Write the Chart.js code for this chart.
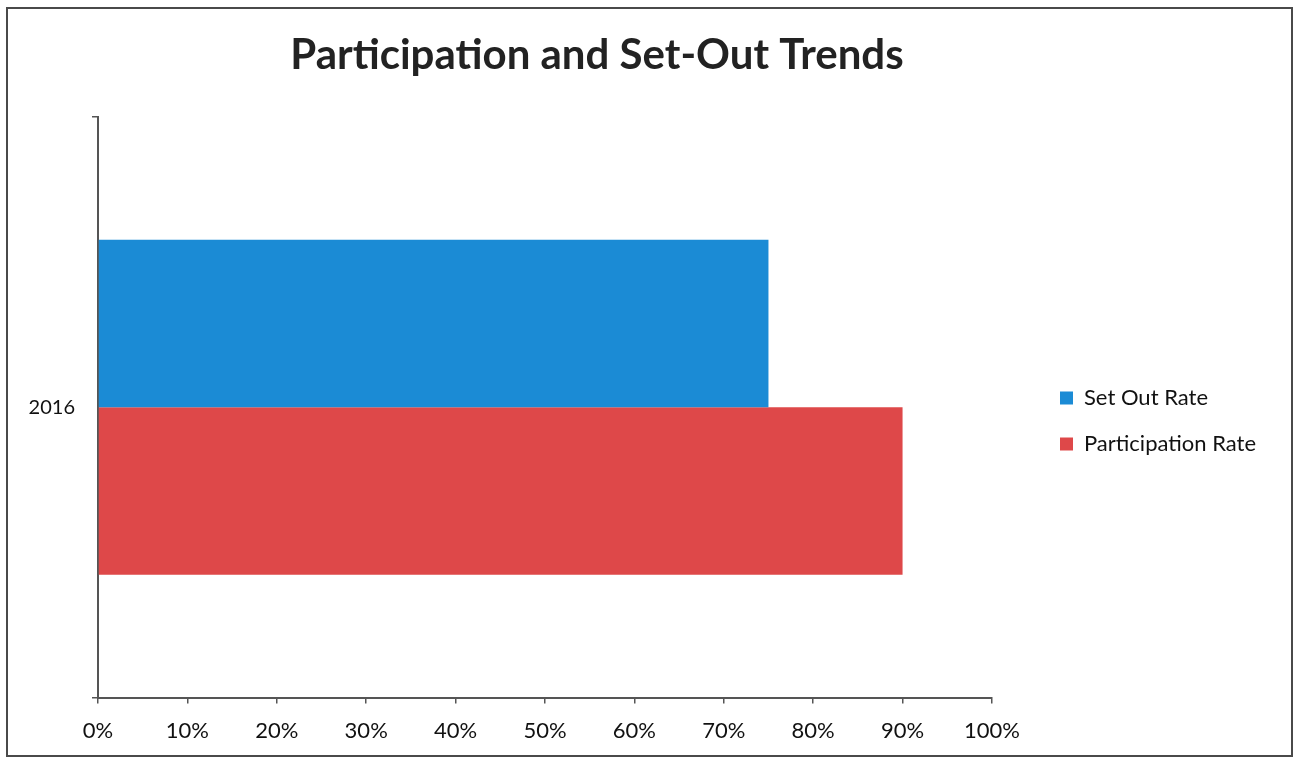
<!DOCTYPE html>
<html>
<head>
<meta charset="utf-8">
<title>Participation and Set-Out Trends</title>
<script src="https://cdn.jsdelivr.net/npm/chart.js@4/dist/chart.umd.min.js"></script>
<style>
    html, body { margin: 0; padding: 0; background: #fff; }
    canvas { display: block; }
</style>
</head>
<body>
<canvas id="trendsChart" width="1297" height="761"></canvas>
<script>
// Data
const years = ['2016'];
const setOutRate = [75];
const participationRate = [90];
const seriesLabels = ['Set Out Rate', 'Participation Rate'];
const seriesColors = ['#1b8bd5', '#de4849'];

const axisColor = '#555';
const fontFamily = 'Lato, "Open Sans", sans-serif';

// Frame around the whole picture + nudge title/legend to where they sit in the original
const framePlugin = {
    id: 'frame',
    beforeDraw(chart) {
        const ctx = chart.ctx;
        ctx.save();
        ctx.strokeStyle = '#4a4a4a';
        ctx.lineWidth = 2;
        ctx.strokeRect(7, 8, 1285, 748);
        ctx.restore();
    },
    afterLayout(chart) {
        const title = chart.titleBlock;
        if (title) {
            title.left -= 14;
            title.right -= 14;
        }
        const legend = chart.legend;
        if (legend) {
            const dx = 1060 - chart.options.plugins.legend.labels.padding - legend.left;
            legend.left += dx;
            legend.right += dx;
            legend.top += 37;
            legend.bottom += 37;
        }
    }
};

document.addEventListener('DOMContentLoaded', function() {
    if (typeof Chart === 'undefined') {
        console.error('Chart.js not loaded');
        return;
    }

    const ctx = document.getElementById('trendsChart');
    new Chart(ctx, {
        type: 'bar',
        data: {
            labels: years,
            datasets: [
                {
                    label: seriesLabels[0],
                    data: setOutRate,
                    backgroundColor: seriesColors[0]
                },
                {
                    label: seriesLabels[1],
                    data: participationRate,
                    backgroundColor: seriesColors[1]
                }
            ]
        },
        options: {
            indexAxis: 'y',
            responsive: false,
            animation: false,
            categoryPercentage: 0.577,
            barPercentage: 1,
            layout: {
                padding: { top: 10, right: 75, bottom: 3, left: 0 }
            },
            scales: {
                x: {
                    min: 0,
                    max: 100,
                    ticks: {
                        stepSize: 10,
                        padding: 14,
                        color: '#111',
                        font: { family: fontFamily, size: 22 },
                        callback: function(value) { return value + '%'; }
                    },
                    grid: {
                        drawOnChartArea: false,
                        tickLength: 6,
                        color: axisColor,
                        lineWidth: 1.5
                    },
                    border: { color: axisColor, width: 2 }
                },
                y: {
                    afterFit: function(scale) { scale.width = 98; },
                    ticks: {
                        padding: 17,
                        color: '#111',
                        font: { family: fontFamily, size: 20 }
                    },
                    grid: {
                        drawOnChartArea: false,
                        tickLength: 6,
                        color: axisColor,
                        lineWidth: 1.5
                    },
                    border: { color: axisColor, width: 2 }
                }
            },
            plugins: {
                title: {
                    display: true,
                    text: 'Participation and Set-Out Trends',
                    color: '#222',
                    font: { family: fontFamily, size: 42, weight: 'bold' },
                    padding: { top: 20, bottom: 36.6 }
                },
                legend: {
                    position: 'right',
                    labels: {
                        boxWidth: 13,
                        boxHeight: 13,
                        padding: 24,
                        color: '#111',
                        font: { family: fontFamily, size: 22 }
                    }
                },
                tooltip: { enabled: false }
            }
        },
        plugins: [framePlugin]
    });
});
</script>
</body>
</html>
